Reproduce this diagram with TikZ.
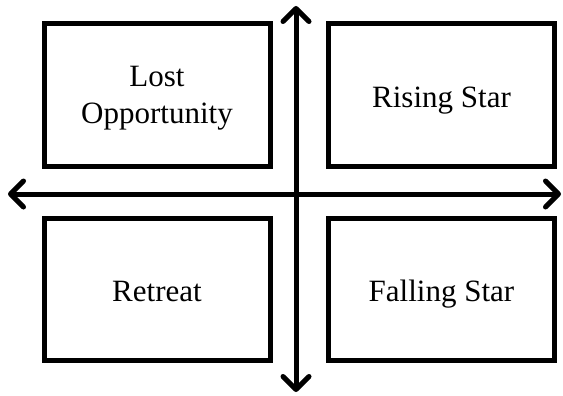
\documentclass[tikz,border=0pt]{standalone}
\usepackage{fontspec}
\setmainfont{Liberation Serif}
\usetikzlibrary{arrows.meta}
\begin{document}
\begin{tikzpicture}[x=1pt,y=-1pt,
  quad/.style={draw=black,line width=5pt,minimum width=226pt,minimum height=142pt,inner sep=0pt},
  lbl/.style={align=center,font=\fontsize{31}{37}\selectfont,inner sep=0pt},
  oneline/.style={lbl,text height=28pt,text depth=4pt},
  axis/.style={line width=5pt,{Straight Barb[length=13pt,width=26pt,line width=5pt,round]}-{Straight Barb[length=13pt,width=26pt,line width=5pt,round]}}]
\useasboundingbox (0,0) rectangle (563,396);
\node[quad] (lo) at (157,95) {};
\node[quad] (rs) at (441.5,95) {};
\node[quad] (re) at (157,289) {};
\node[quad] (fs) at (441.5,289) {};
\node[lbl] at ([yshift=-3pt]lo.center) {Lost\\Opportunity};
\node[oneline] at (rs) {Rising Star};
\node[oneline] at (re) {Retreat};
\node[oneline] at (fs) {Falling Star};
\coordinate (l) at (8,194);
\coordinate (r) at (561,194);
\coordinate (t) at (296,6);
\coordinate (b) at (296,392);
\draw[axis] (l) -- (r);
\draw[axis] (t) -- (b);
\end{tikzpicture}
\end{document}
